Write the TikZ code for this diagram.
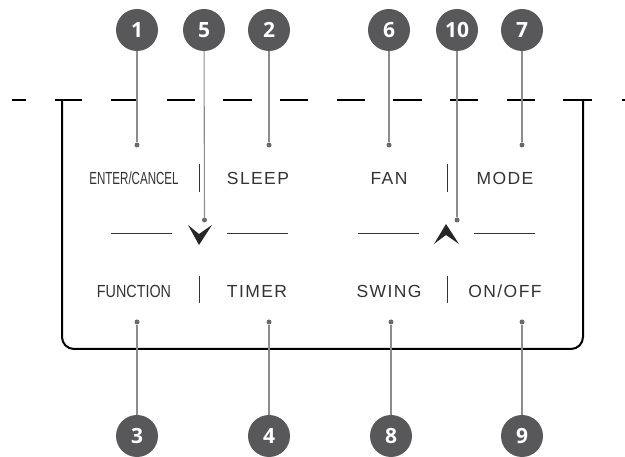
\documentclass[tikz,border=0pt]{standalone}
\usepackage{fontspec}
\setmainfont{Liberation Sans}
\newfontfamily\numfont{Open Sans}
\definecolor{badgegray}{HTML}{58585A}
\definecolor{leadgray}{HTML}{8C8C8C}
\definecolor{dotgray}{HTML}{6A6A6A}
\definecolor{txtgray}{HTML}{333333}
\begin{document}
\begin{tikzpicture}[x=1pt,y=-1pt,
  badge/.style={circle,fill=badgegray,minimum size=42pt,inner sep=0pt,text=white,
    font=\numfont\bfseries\fontsize{21}{21}\selectfont},
  lead/.style={draw=leadgray,line width=1.1pt},
  dotm/.style={circle,fill=dotgray,minimum size=5pt,inner sep=0pt},
  lbl/.style={text=txtgray,inner sep=0pt,text height=12.8pt,text depth=0pt,
    font=\fontsize{17.5}{17.5}\selectfont},
  widelbl/.style={lbl,font=\fontsize{17.5}{17.5}\selectfont\addfontfeature{LetterSpace=8}},
  dashseg/.style={line width=1.6pt,black},
  frame/.style={line width=2pt,black,rounded corners=12pt},
  sep/.style={line width=1pt,txtgray},
  midline/.style={line width=1pt,txtgray},
  chev/.style={fill=black!85,draw=none}]
\useasboundingbox (0,0) rectangle (625,457);
% dashed top line
\foreach \a/\b in {12/26,55/82,111/138,167/195,223/252,280/308,337/365,393/422,450/478,507/535,563/592,622/630}
  \draw[dashseg] (\a,100) -- (\b,100);
% frame
\draw[frame] (62,100) -- (62,349) -- (583,349) -- (583,100);
% labels row 1
\node[lbl] (enter) at (134,178) {\scalebox{0.66}[1]{ENTER/CANCEL}};
\node[widelbl] (sleep) at (258,178) {SLEEP};
\node[widelbl] (fan) at (389,178) {FAN};
\node[widelbl] (mode) at (505,178) {MODE};
% labels row 2
\node[lbl] (func) at (134,291) {\scalebox{0.82}[1]{FUNCTION}};
\node[widelbl] (timer) at (257,291) {TIMER};
\node[widelbl] (swing) at (389,291) {SWING};
\node[widelbl] (onoff) at (505,291) {ON/OFF};
% separators
\draw[sep] (199,164) -- (199,192);
\draw[sep] (447,164) -- (447,192);
\draw[sep] (199,276) -- (199,303);
\draw[sep] (447,276) -- (447,303);
% middle lines
\draw[midline] (111,234) -- (172,234);
\draw[midline] (227,234) -- (288,234);
\draw[midline] (358,234) -- (419,234);
\draw[midline] (474,234) -- (535,234);
% chevrons
\fill[chev] (188,225) -- (199,234) -- (212,225) -- (199,245) -- cycle;
\fill[chev] (434,244) -- (446,235) -- (459,244) -- (446,224) -- cycle;
% badges
\node[badge] (c1) at (137,30) {1};
\node[badge] (c5) at (204,30) {5};
\node[badge] (c2) at (269,30) {2};
\node[badge] (c6) at (389,30) {6};
\node[badge] (c10) at (457,30) {10};
\node[badge] (c7) at (522,30) {7};
\node[badge] (c3) at (137,436) {3};
\node[badge] (c4) at (269,436) {4};
\node[badge] (c8) at (391,436) {8};
\node[badge] (c9) at (522,436) {9};
% dots
\node[dotm] (d1) at (137,145) {};
\node[dotm] (d5) at (204.5,220) {};
\node[dotm] (d2) at (269,145) {};
\node[dotm] (d6) at (389,145) {};
\node[dotm] (d10) at (457,220) {};
\node[dotm] (d7) at (522,145) {};
\node[dotm] (d3) at (137,322) {};
\node[dotm] (d4) at (269,322) {};
\node[dotm] (d8) at (391,322) {};
\node[dotm] (d9) at (522,322) {};
% leaders
\foreach \n in {1,5,2,6,10,7,3,4,8,9}
  \draw[lead] (c\n) -- (d\n);
\end{tikzpicture}
\end{document}
